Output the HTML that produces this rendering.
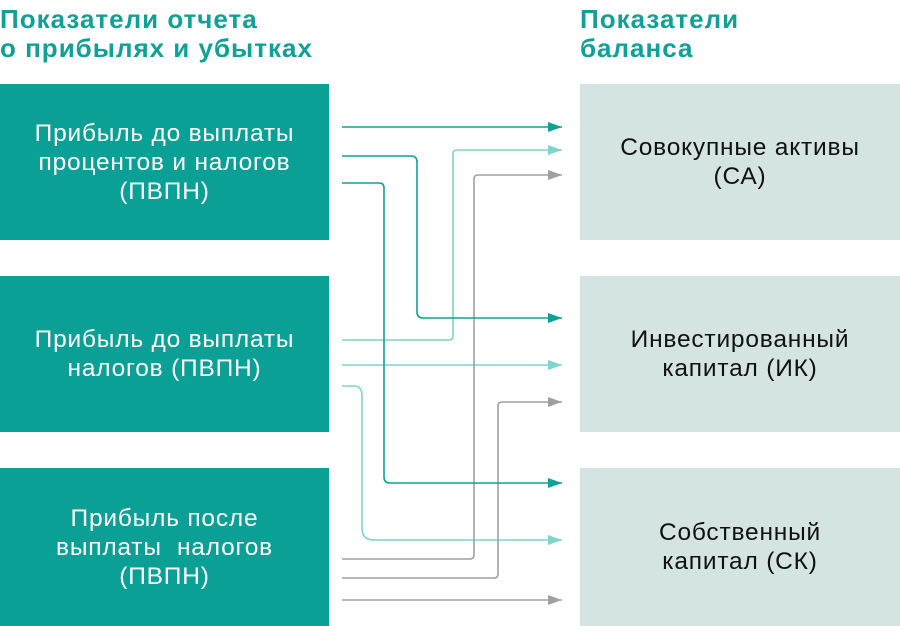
<!DOCTYPE html>
<html><head><meta charset="utf-8"><style>
body{margin:0;width:900px;height:626px;background:#fff;position:relative;overflow:hidden;font-family:"Liberation Sans","DejaVu Sans",sans-serif}
.t{position:absolute;color:#10a196;font-weight:bold;font-size:26px;line-height:29px;top:5px;letter-spacing:1px}
.b{position:absolute;display:flex;align-items:center;justify-content:center;text-align:center;font-size:24.5px;line-height:29px;letter-spacing:0.8px}
.l{left:0;width:329px;background:#0aa095;color:#fff}
.r{left:580px;width:320px;background:#d3e4e3;color:#111}
</style></head><body>
<div class="t" style="left:0">Показатели отчета<br>о прибылях и убытках</div>
<div class="t" style="left:580px">Показатели<br>баланса</div>
<div class="b l" style="top:84px;height:156px">Прибыль до выплаты<br>процентов и налогов<br>(ПВПН)</div>
<div class="b l" style="top:276px;height:156px">Прибыль до выплаты<br>налогов (ПВПН)</div>
<div class="b l" style="top:468px;height:158px">Прибыль после<br>выплаты&nbsp; налогов<br>(ПВПН)</div>
<div class="b r" style="top:84px;height:156px">Совокупные активы<br>(СА)</div>
<div class="b r" style="top:276px;height:156px">Инвестированный<br>капитал (ИК)</div>
<div class="b r" style="top:468px;height:158px">Собственный<br>капитал (СК)</div>
<svg width="900" height="626" style="position:absolute;left:0;top:0" fill="none" stroke-width="1.6">
<defs>
<marker id="d" markerWidth="14" markerHeight="10" refX="14" refY="5" orient="auto" markerUnits="userSpaceOnUse"><path d="M0,0L14,5L0,10z" fill="#10a196"/></marker>
<marker id="lt" markerWidth="14" markerHeight="10" refX="14" refY="5" orient="auto" markerUnits="userSpaceOnUse"><path d="M0,0L14,5L0,10z" fill="#7fd4cc"/></marker>
<marker id="g" markerWidth="14" markerHeight="10" refX="14" refY="5" orient="auto" markerUnits="userSpaceOnUse"><path d="M0,0L14,5L0,10z" fill="#a0a0a0"/></marker>
</defs>
<g stroke="#7fd4cc">
<path d="M342,340H449Q453,340 453,336V154Q453,150 457,150H562" marker-end="url(#lt)"/>
<path d="M342,365H562" marker-end="url(#lt)"/>
<path d="M342,386H354Q362,386 362,396V528Q362,540 374,540H562" marker-end="url(#lt)"/>
</g>
<g stroke="#a0a0a0">
<path d="M342,559H470Q474,559 474,555V179Q474,175 478,175H562" marker-end="url(#g)"/>
<path d="M342,578H494Q498,578 498,574V406Q498,402 502,402H562" marker-end="url(#g)"/>
<path d="M342,600H562" marker-end="url(#g)"/>
</g>
<g stroke="#10a196">
<path d="M342,127H562" marker-end="url(#d)"/>
<path d="M342,156H411Q417,156 417,162V312Q417,318 423,318H562" marker-end="url(#d)"/>
<path d="M342,183H379Q384,183 384,188V477Q384,483 390,483H562" marker-end="url(#d)"/>
</g>
</svg>
</body></html>
